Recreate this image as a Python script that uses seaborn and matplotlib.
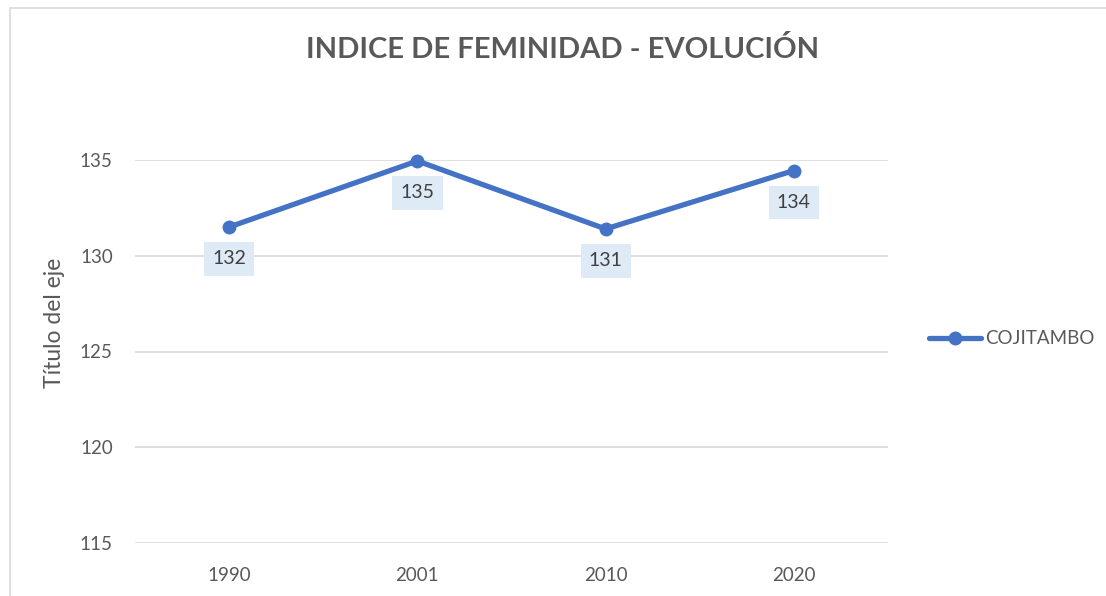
import seaborn as sns
import matplotlib.pyplot as plt
import matplotlib.patches as mpatches
import pandas as pd

years = ['1990', '2001', '2010', '2020']
values = [131.5, 134.95, 131.4, 134.45]
labels = ['132', '135', '131', '134']
serie = 'COJITAMBO'

df = pd.DataFrame({'year': years, 'value': values, 'serie': serie})

sns.set_style('white')
plt.rcParams['font.family'] = ['Lato', 'DejaVu Sans']

fig = plt.figure(figsize=(11.06, 5.96), dpi=100)
ax = fig.add_axes([135 / 1106, 1 - 543 / 596, 753 / 1106, 383 / 596])

# marco del grafico
fig.patches.append(mpatches.Rectangle((10 / 1106, -0.1), 1.2, 1 - 8 / 596 + 0.1,
                                      transform=fig.transFigure, fill=False,
                                      ec='#D9D9D9', lw=1.2))

sns.lineplot(data=df, x='year', y='value', hue='serie', palette=['#4472C4'],
             marker='o', markersize=10, markeredgewidth=0, linewidth=3.8, ax=ax)
for ln in ax.get_lines():
    ln.set_clip_on(False)

for i, (v, t) in enumerate(zip(values, labels)):
    ax.annotate(t, (i, v), xytext=(0, -23), textcoords='offset points',
                ha='center', va='center', fontsize=14, color='#404040',
                bbox=dict(boxstyle='square,pad=0.42', fc='#DEEBF7', ec='none'))

ax.set_xlim(-0.5, 3.5)
ax.set_ylim(115, 135)
ax.set_yticks([115, 120, 125, 130, 135])
ax.grid(axis='y', color='#D9D9D9', linewidth=1.2)
ax.set_axisbelow(True)
for s in ax.spines.values():
    s.set_visible(False)
ax.tick_params(axis='y', length=0, pad=16, labelsize=13.5, labelcolor='#595959')
ax.tick_params(axis='x', length=0, pad=17, labelsize=13.5, labelcolor='#595959')

ax.set_xlabel('')
ax.set_ylabel('Título del eje', fontsize=16.5, color='#595959')
ax.yaxis.set_label_coords(-0.093, 0.575)

fig.text(563 / 1106, 1 - 50 / 596, 'INDICE DE FEMINIDAD - EVOLUCIÓN', ha='center',
         va='center', fontsize=21, fontweight='bold', color='#595959')

leg = ax.legend(loc='center left', bbox_to_anchor=(921 / 1106, 1 - 339 / 596),
                bbox_transform=fig.transFigure, frameon=False, fontsize=13.5,
                handlelength=2.8, handletextpad=0.2, borderaxespad=0)
for txt in leg.get_texts():
    txt.set_color('#595959')

fig.savefig('out.png', dpi=100)
